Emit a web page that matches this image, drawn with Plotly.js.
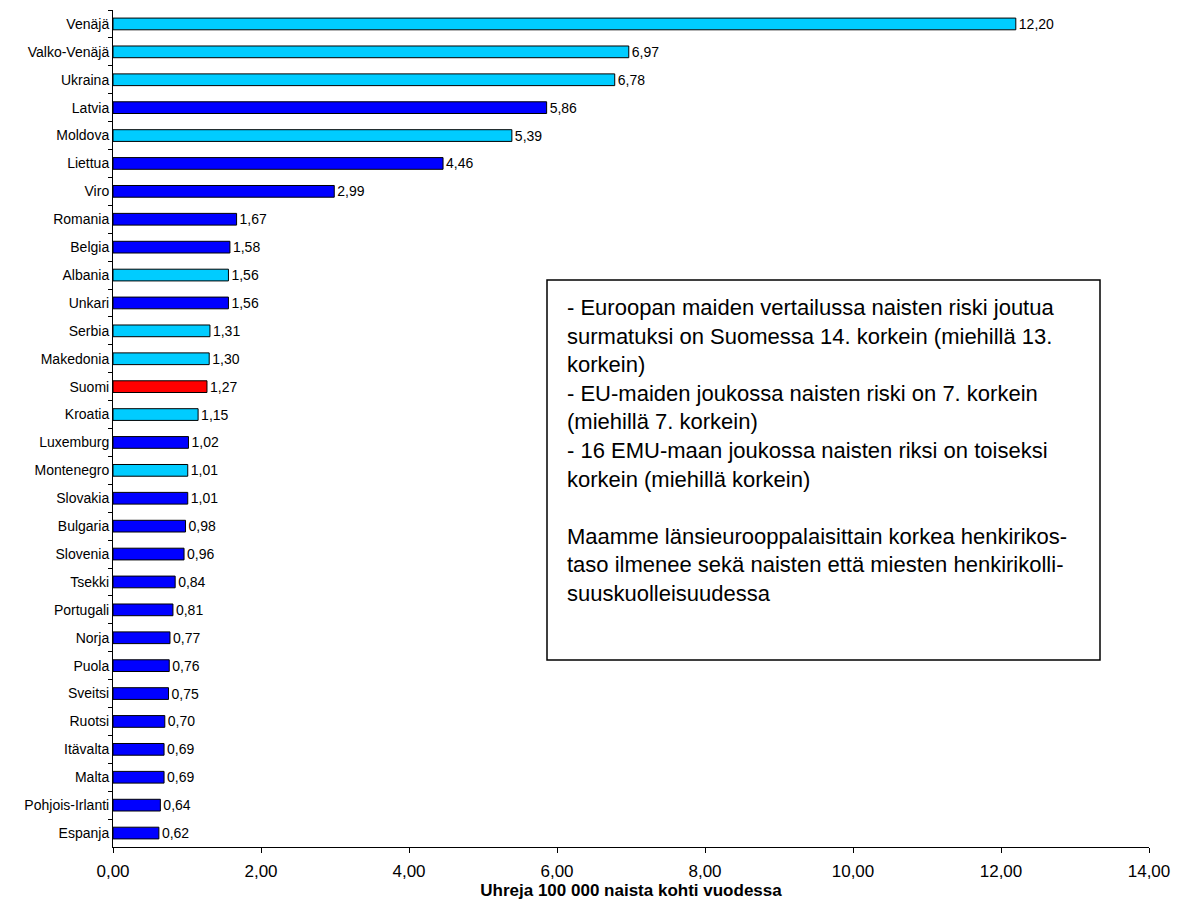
<!DOCTYPE html>
<html>
<head>
<meta charset="utf-8">
<script src="https://cdn.plot.ly/plotly-3.0.1.min.js"></script>
<style>html,body{margin:0;padding:0;background:#fff;}#chart{width:1180px;height:902px;}</style>
</head>
<body>
<div id="chart"></div>
<script>
// Data (top to bottom)
const countries = ["Venäjä","Valko-Venäjä","Ukraina","Latvia","Moldova","Liettua","Viro","Romania","Belgia","Albania","Unkari","Serbia","Makedonia","Suomi","Kroatia","Luxemburg","Montenegro","Slovakia","Bulgaria","Slovenia","Tsekki","Portugali","Norja","Puola","Sveitsi","Ruotsi","Itävalta","Malta","Pohjois-Irlanti","Espanja"];
const rates = [12.20,6.97,6.78,5.86,5.39,4.46,2.99,1.67,1.58,1.56,1.56,1.31,1.30,1.27,1.15,1.02,1.01,1.01,0.98,0.96,0.84,0.81,0.77,0.76,0.75,0.70,0.69,0.69,0.64,0.62];
// group: L = light blue, D = dark blue, F = Finland (red)
const groups = ["L","L","L","D","L","D","D","D","D","L","D","L","L","F","L","D","L","D","D","D","D","D","D","D","D","D","D","D","D","D"];
const xTickVals = [0,2,4,6,8,10,12,14];
const xTitle = "Uhreja 100 000 naista kohti vuodessa";
const noteText = "- Euroopan maiden vertailussa naisten riski joutua<br>surmatuksi on Suomessa 14. korkein (miehillä 13.<br>korkein)<br>- EU-maiden joukossa naisten riski on 7. korkein<br>(miehillä 7. korkein)<br>- 16 EMU-maan joukossa naisten riksi on toiseksi<br>korkein (miehillä korkein)<br> <br>Maamme länsieurooppalaisittain korkea henkirikos-<br>taso ilmenee sekä naisten että miesten henkirikolli-<br>suuskuolleisuudessa";

const colorMap = {L:"#00CCFF", D:"#0000FF", F:"#FF0000"};
const FONT = "Liberation Sans, Arial, sans-serif";

const W = 1180, H = 902;
const M = {l:113, r:31, t:10, b:55};
const pw = W - M.l - M.r, ph = H - M.t - M.b;
const px = x => (x - M.l) / pw;
const py = y => 1 - (y - M.t) / ph;

const trace = {
  type: "bar",
  orientation: "h",
  y: countries,
  x: rates,
  marker: {color: groups.map(g => colorMap[g]), line: {color: "#000000", width: 1}},
  texttemplate: "%{x:.2f}",
  textposition: "outside",
  constraintext: "none",
  textfont: {family: FONT, size: 14, color: "#000"},
  cliponaxis: false,
  hoverinfo: "skip"
};

const layout = {
  width: W, height: H,
  margin: M,
  paper_bgcolor: "#fff", plot_bgcolor: "#fff",
  separators: ", ",
  bargap: 0.58,
  showlegend: false,
  font: {family: FONT, color: "#000"},
  xaxis: {
    range: [0, 14],
    tickvals: xTickVals,
    tickformat: ".2f",
    ticks: "outside", ticklen: 5, tickcolor: "#000", tickwidth: 1,
    showline: true, linecolor: "#000", linewidth: 1,
    showgrid: false, zeroline: false,
    tickfont: {family: FONT, size: 17, color: "#000"},
    ticklabelstandoff: 4,
    title: {text: "<b>" + xTitle + "</b>", font: {family: FONT, size: 17, color: "#000"}, standoff: 3},
    automargin: false
  },
  yaxis: {
    autorange: "reversed",
    type: "category",
    ticks: "outside", ticklen: 4, tickcolor: "#000", tickwidth: 1,
    tickson: "boundaries",
    showline: true, linecolor: "#000", linewidth: 1,
    showgrid: false, zeroline: false,
    tickfont: {family: FONT, size: 14, color: "#000"},
    automargin: false
  },
  shapes: [{
    type: "rect", xref: "paper", yref: "paper",
    x0: px(547), x1: px(1100), y0: py(660), y1: py(280),
    line: {color: "#000", width: 1.5}, fillcolor: "rgba(0,0,0,0)"
  }],
  annotations: [{
    xref: "paper", yref: "paper",
    x: px(565), y: py(293),
    xanchor: "left", yanchor: "top",
    align: "left",
    showarrow: false,
    text: noteText,
    font: {family: FONT, size: 22, color: "#000"}
  }]
};

Plotly.newPlot("chart", [trace], layout, {displayModeBar: false, staticPlot: true});
</script>
</body>
</html>
